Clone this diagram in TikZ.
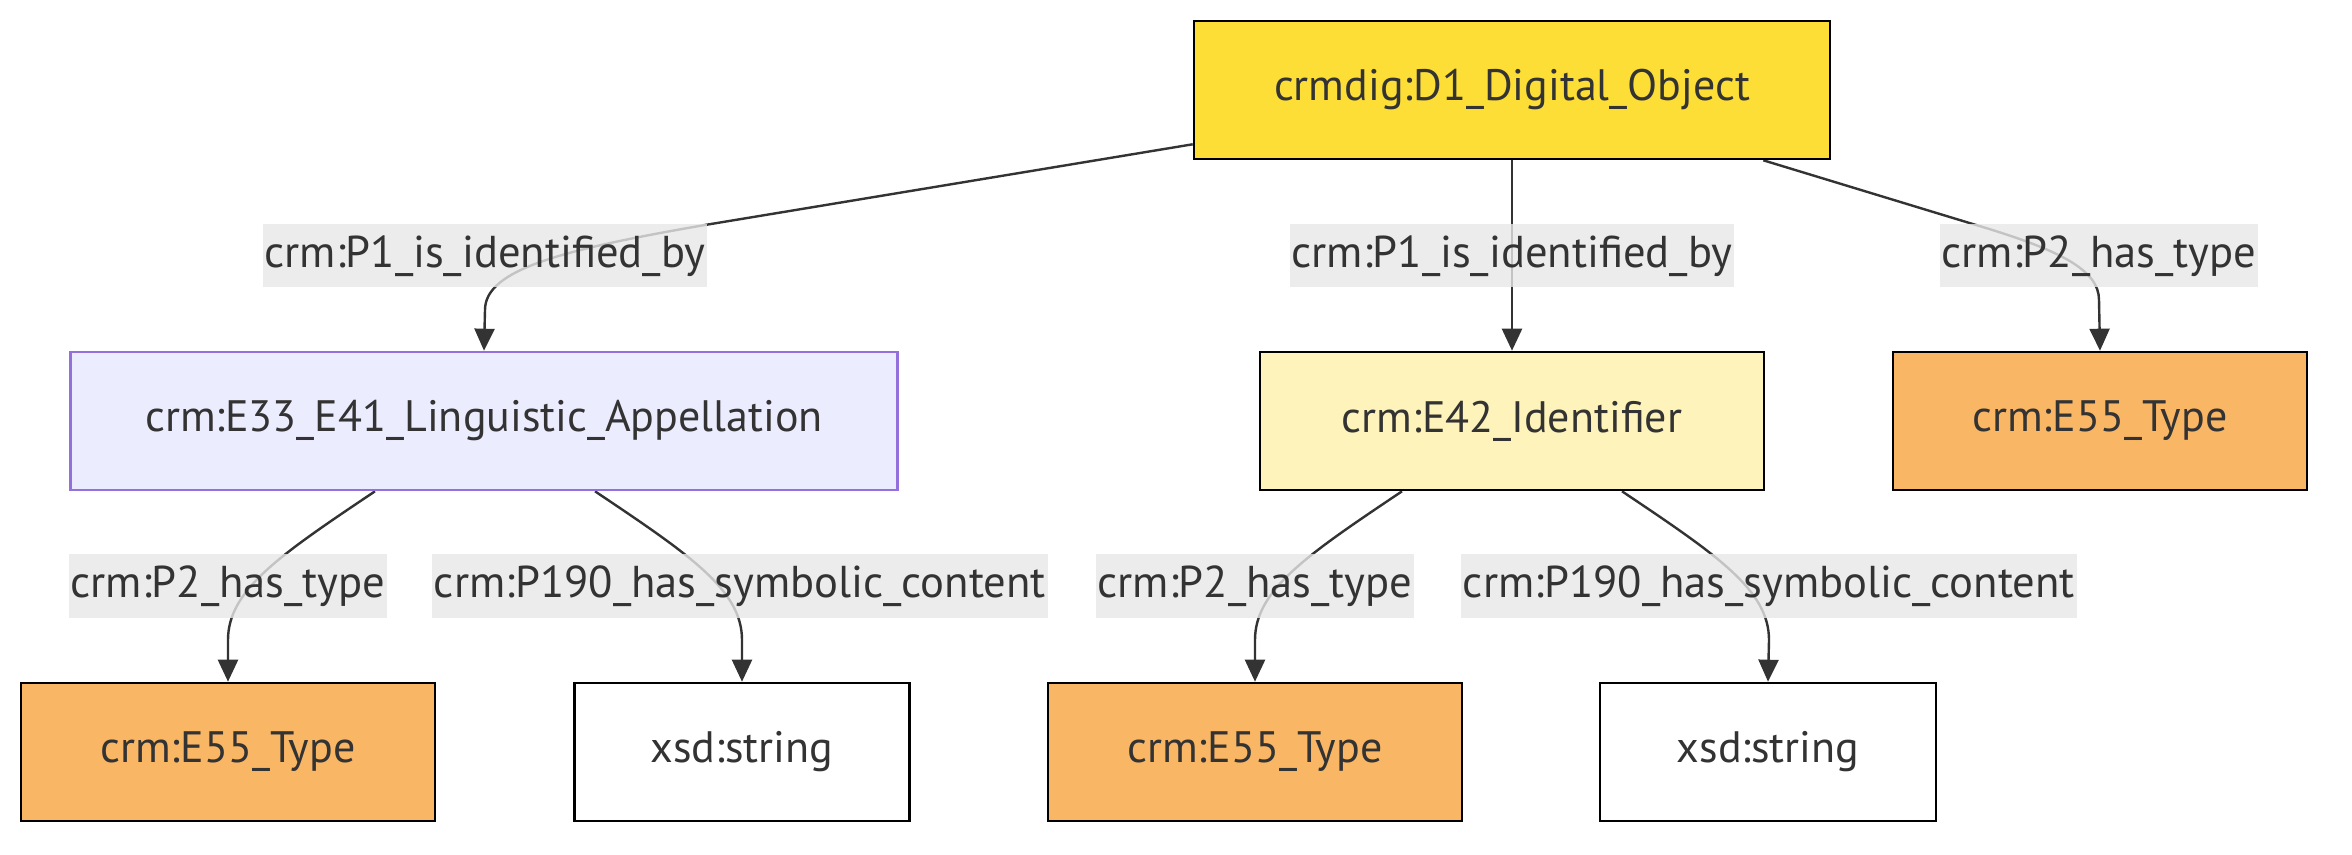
\documentclass[tikz,border=0pt]{standalone}
\usepackage{fontspec}
\setmainfont{PT Sans}
\usetikzlibrary{arrows.meta,calc}
\definecolor{txt}{HTML}{333333}
\definecolor{gold}{HTML}{FDDE36}
\definecolor{pale}{HTML}{FEF3BA}
\definecolor{orng}{HTML}{F9B665}
\definecolor{lav}{HTML}{ECECFF}
\definecolor{lavline}{HTML}{9370DB}
\definecolor{lblbg}{HTML}{E8E8E8}
\definecolor{edgec}{HTML}{333333}
\pgfdeclarelayer{back}
\pgfdeclarelayer{bg}
\pgfsetlayers{back,bg,main}
\tikzset{
  box/.style={draw=black, line width=1.3pt, minimum height=69pt, text=txt, font=\fontsize{22}{26}\selectfont, inner sep=0pt},
  lbl/.style={fill=lblbg, fill opacity=0.8, text opacity=1, text=txt, font=\fontsize{22.3}{26}\selectfont, minimum height=31.5pt, inner xsep=1pt, inner ysep=0pt},
  edge/.style={draw=edgec, line width=1.2pt, -{Triangle[length=11pt,width=10pt]}},
}
\begin{document}
\begin{tikzpicture}[x=0.5pt,y=-0.5pt]
\begin{pgfonlayer}{back}
\fill[white] (0,0) rectangle (2352,855);
\end{pgfonlayer}
\useasboundingbox (0,0) rectangle (2352,855);
\node[box, fill=gold, minimum width=318pt] (top) at (1512,90) {crmdig:D1\_Digital\_Object};
\node[box, fill=lav, draw=lavline, minimum width=413.5pt] (e33) at (484,421) {crm:E33\_E41\_Linguistic\_Appellation};
\node[box, fill=pale, minimum width=252pt] (e42) at (1512,421) {crm:E42\_Identifier};
\node[box, fill=orng, minimum width=207pt] (e55r) at (2100,421) {crm:E55\_Type};
\node[box, fill=orng, minimum width=207pt] (e55l) at (228,752) {crm:E55\_Type};
\node[box, fill=white, minimum width=167.5pt] (xsdl) at (742,752) {xsd:string};
\node[box, fill=orng, minimum width=207pt] (e55m) at (1255,752) {crm:E55\_Type};
\node[box, fill=white, minimum width=168pt] (xsdr) at (1768,752) {xsd:string};

\node[lbl] (l1) at (485,256) {crm:P1\_is\_identified\_by};
\node[lbl] (l2) at (1512,256) {crm:P1\_is\_identified\_by};
\node[lbl] (l3) at (2099,256) {crm:P2\_has\_type};
\node[lbl] (l4) at (228,586) {crm:P2\_has\_type};
\node[lbl] (l5) at (740,586) {crm:P190\_has\_symbolic\_content};
\node[lbl] (l6) at (1255,586) {crm:P2\_has\_type};
\node[lbl] (l7) at (1769,586) {crm:P190\_has\_symbolic\_content};

\begin{pgfonlayer}{bg}
\draw[edge] ([yshift=8pt]top.south west) -- (705,225) .. controls (560,250) and (485,270) .. (485,310) -- (e33.north);
\draw[edge] (top.south) -- (e42.north);
\draw[edge] ([xshift=-34pt]top.south east) -- (1976,225) .. controls (2060,250) and (2099,270) .. (2099,300) -- (e55r.north);
\draw[edge] ([xshift=-54.5pt]e33.south) .. controls (280,555) and (228,590) .. (228,640) -- (e55l.north);
\draw[edge] ([xshift=55.5pt]e33.south) .. controls (690,555) and (742,590) .. (742,640) -- (xsdl.north);
\draw[edge] ([xshift=-55pt]e42.south) .. controls (1307,555) and (1255,590) .. (1255,640) -- (e55m.north);
\draw[edge] ([xshift=55pt]e42.south) .. controls (1717,555) and (1769,590) .. (1769,640) -- (xsdr.north);
\end{pgfonlayer}
\end{tikzpicture}
\end{document}
